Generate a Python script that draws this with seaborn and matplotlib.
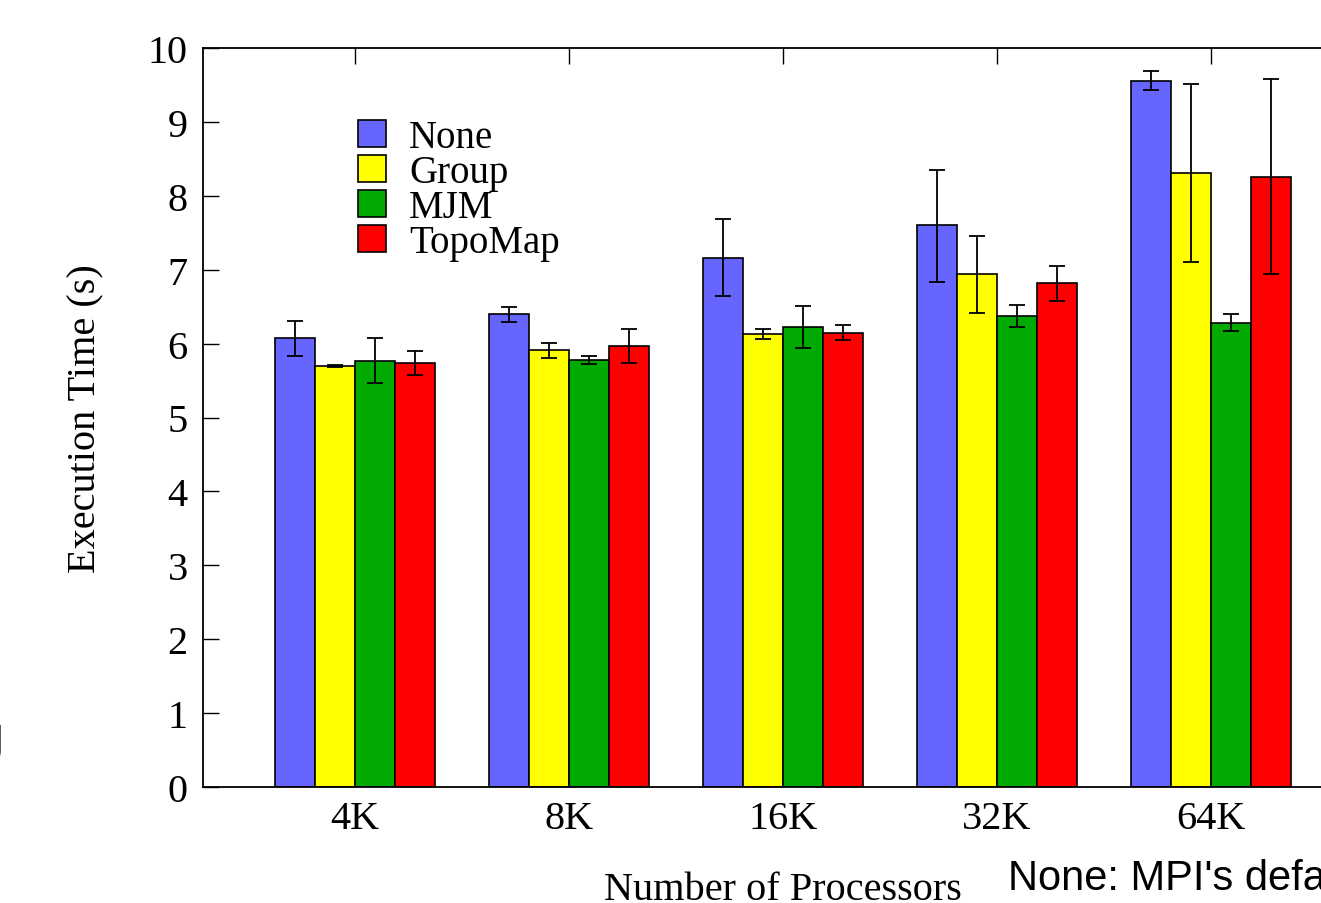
import matplotlib
matplotlib.use("Agg")
import matplotlib.pyplot as plt
import seaborn as sns
import pandas as pd

# ---- data ----
processors = ["4K", "8K", "16K", "32K", "64K"]
methods = ["None", "Group", "MJM", "TopoMap"]

none_time = [6.07, 6.40, 7.16, 7.60, 9.56]
none_low = [5.83, 6.29, 6.64, 6.84, 9.43]
none_high = [6.30, 6.50, 7.68, 8.35, 9.69]

group_time = [5.70, 5.91, 6.13, 6.94, 8.31]
group_low = [5.69, 5.81, 6.06, 6.41, 7.11]
group_high = [5.71, 6.01, 6.20, 7.46, 9.51]

mjm_time = [5.77, 5.78, 6.22, 6.38, 6.28]
mjm_low = [5.47, 5.73, 5.94, 6.23, 6.17]
mjm_high = [6.08, 5.83, 6.51, 6.52, 6.40]

topo_time = [5.74, 5.97, 6.15, 6.82, 8.26]
topo_low = [5.57, 5.74, 6.05, 6.58, 6.94]
topo_high = [5.90, 6.20, 6.25, 7.05, 9.58]

y_ticks = [0, 1, 2, 3, 4, 5, 6, 7, 8, 9, 10]
colors = ["#6666ff", "#ffff00", "#00aa00", "#ff0000"]

series = {
    "None": (none_time, none_low, none_high),
    "Group": (group_time, group_low, group_high),
    "MJM": (mjm_time, mjm_low, mjm_high),
    "TopoMap": (topo_time, topo_low, topo_high),
}

rows = []
for m in methods:
    t, lo, hi = series[m]
    for p, tv, lv, hv in zip(processors, t, lo, hi):
        rows.append({"procs": p, "method": m, "time": tv, "low": lv, "high": hv})
df = pd.DataFrame(rows)

# ---- style ----
sns.set_style("ticks")
plt.rcParams["font.family"] = ["Liberation Serif", "DejaVu Serif"]
plt.rcParams["text.color"] = "black"
plt.rcParams["axes.labelcolor"] = "black"
plt.rcParams["xtick.color"] = "black"
plt.rcParams["ytick.color"] = "black"

W, H = 1321, 904
fig = plt.figure(figsize=(W / 100, H / 100), dpi=100)
ax = fig.add_axes([203 / W, 1 - 788 / H, 1160 / W, 739 / H])

sns.barplot(data=df, x="procs", y="time", hue="method", order=processors,
            hue_order=methods, palette=colors, saturation=1, width=0.75,
            errorbar=None, edgecolor="black", linewidth=1.2, ax=ax, legend=False)

handles = []
for i, m in enumerate(methods):
    cont = ax.containers[i]
    t, lo, hi = series[m]
    xs = [b.get_x() + b.get_width() / 2 for b in cont]
    ax.errorbar(xs, t, yerr=[[a - b for a, b in zip(t, lo)], [b - a for a, b in zip(t, hi)]],
                fmt="none", ecolor="black", elinewidth=1.3, capsize=6, capthick=1.3, zorder=3)
    handles.append(cont.patches[0])

ax.set_xlim(-0.71, 4.71)
ax.set_ylim(0, 10)
ax.set_yticks(y_ticks)
ax.set_yticklabels([str(v) for v in y_ticks])

for s in ax.spines.values():
    s.set_visible(True)
    s.set_linewidth(1.3)
    s.set_color("black")

ax.tick_params(axis="both", direction="in", length=11.5, width=1.0, labelsize=29,
               top=True, right=True, colors="black")
ax.tick_params(axis="x", pad=9.5)
ax.tick_params(axis="y", pad=11)

ax.set_xlabel("Number of Processors", fontsize=29, color="black")
ax.set_ylabel("Execution Time (s)", fontsize=29, color="black")
ax.xaxis.set_label_coords(0.5, -0.113)
ax.yaxis.set_label_coords(-0.085, 0.5)

leg = ax.legend(handles, methods, loc="upper left", bbox_to_anchor=(0.1336, 0.904),
                frameon=False, fontsize=28, borderpad=0, borderaxespad=0,
                handlelength=0.72, handleheight=0.67, handletextpad=0.6,
                labelspacing=-0.05)

fig.text(1008 / W, 1 - 890 / H, "None: MPI's default mapping", fontsize=30,
         family="Liberation Sans", ha="left", va="baseline", color="black")
fig.text(4 / W, 1 - 763 / H, "J", fontsize=40, family="Liberation Sans",
         ha="right", va="baseline", color="black")

fig.savefig("out.png", dpi=100, facecolor="white")
